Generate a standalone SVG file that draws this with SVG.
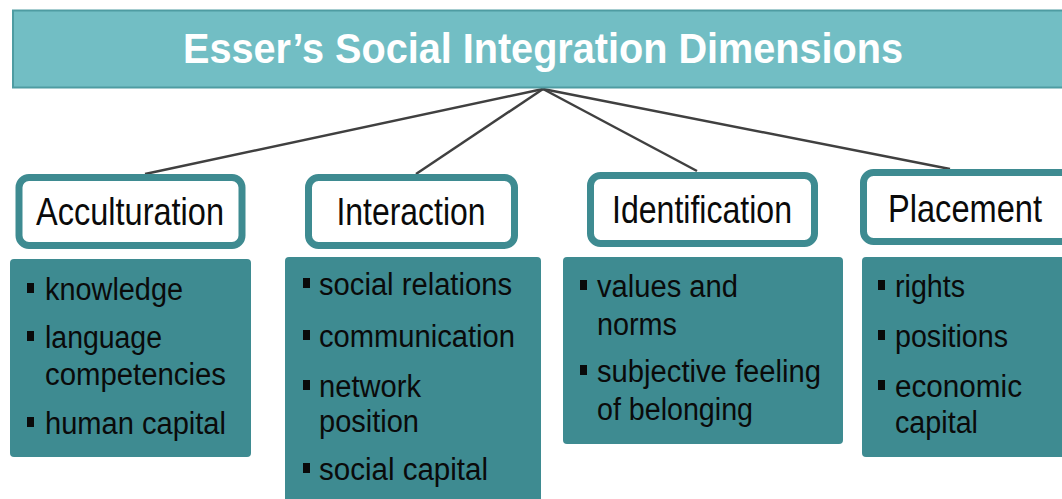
<svg xmlns="http://www.w3.org/2000/svg" width="1062" height="499" viewBox="0 0 1062 499">
<style>
.title{font-family:"Liberation Sans",Arial,sans-serif;font-weight:bold;font-size:43px;fill:#ffffff}
.lbl{font-family:"Liberation Sans",Arial,sans-serif;font-size:39px;fill:#0a0a0a;text-anchor:middle}
.item{font-family:"Liberation Sans",Arial,sans-serif;font-size:31px;fill:#0a0a0a}
.lblbox{fill:#ffffff;stroke:#3e8b91;stroke-width:7}
.body{fill:#3e8b91}
.bul{fill:#0a0a0a}
.conn{stroke:#404040;stroke-width:2.5;fill:none}
</style>
<rect width="1062" height="499" fill="#ffffff"/>
<g id="connectors">
<line class="conn" x1="543" y1="89" x2="145" y2="174"/>
<line class="conn" x1="543" y1="89" x2="416" y2="174"/>
<line class="conn" x1="543" y1="89" x2="697" y2="171"/>
<line class="conn" x1="543" y1="89" x2="950" y2="169"/>
</g>
<g id="title">
<rect x="13" y="10.5" width="1060" height="77" fill="#72bec4" stroke="#4e9ca2" stroke-width="2"/>
<text class="title" x="183" y="63" textLength="720" lengthAdjust="spacingAndGlyphs">Esser’s Social Integration Dimensions</text>
</g>
<g id="acculturation">
<rect class="lblbox" x="19" y="177.5" width="223" height="68" rx="10"/>
<text class="lbl" x="130" y="225" textLength="188" lengthAdjust="spacingAndGlyphs">Acculturation</text>
<rect class="body" x="10" y="259" width="241" height="198" rx="4"/>
<rect class="bul" x="27" y="283" width="7" height="10"/>
<text class="item" x="45" y="300" textLength="138" lengthAdjust="spacingAndGlyphs">knowledge</text>
<rect class="bul" x="27" y="331" width="7" height="10"/>
<text class="item" x="45" y="348" textLength="117" lengthAdjust="spacingAndGlyphs">language</text>
<text class="item" x="45" y="385" textLength="181" lengthAdjust="spacingAndGlyphs">competencies</text>
<rect class="bul" x="27" y="417" width="7" height="10"/>
<text class="item" x="45" y="434" textLength="181" lengthAdjust="spacingAndGlyphs">human capital</text>
</g>
<g id="interaction">
<rect class="lblbox" x="308.5" y="177.5" width="206" height="68" rx="10"/>
<text class="lbl" x="411" y="225" textLength="149" lengthAdjust="spacingAndGlyphs">Interaction</text>
<rect class="body" x="285" y="257" width="256" height="250" rx="4"/>
<rect class="bul" x="303" y="278" width="7" height="10"/>
<text class="item" x="319" y="295" textLength="193" lengthAdjust="spacingAndGlyphs">social relations</text>
<rect class="bul" x="303" y="330" width="7" height="10"/>
<text class="item" x="319" y="347" textLength="196" lengthAdjust="spacingAndGlyphs">communication</text>
<rect class="bul" x="303" y="380" width="7" height="10"/>
<text class="item" x="319" y="397" textLength="102" lengthAdjust="spacingAndGlyphs">network</text>
<text class="item" x="319" y="432" textLength="100" lengthAdjust="spacingAndGlyphs">position</text>
<rect class="bul" x="303" y="463" width="7" height="10"/>
<text class="item" x="319" y="480" textLength="169" lengthAdjust="spacingAndGlyphs">social capital</text>
</g>
<g id="identification">
<rect class="lblbox" x="590.5" y="175.5" width="224" height="68" rx="10"/>
<text class="lbl" x="702" y="223" textLength="180" lengthAdjust="spacingAndGlyphs">Identification</text>
<rect class="body" x="563" y="257" width="280" height="187" rx="4"/>
<rect class="bul" x="580" y="280" width="7" height="10"/>
<text class="item" x="597" y="297" textLength="141" lengthAdjust="spacingAndGlyphs">values and</text>
<text class="item" x="597" y="335" textLength="80" lengthAdjust="spacingAndGlyphs">norms</text>
<rect class="bul" x="580" y="365" width="7" height="10"/>
<text class="item" x="597" y="382" textLength="224" lengthAdjust="spacingAndGlyphs">subjective feeling</text>
<text class="item" x="597" y="420" textLength="156" lengthAdjust="spacingAndGlyphs">of belonging</text>
</g>
<g id="placement">
<rect class="lblbox" x="863.5" y="172.5" width="215" height="69" rx="10"/>
<text class="lbl" x="965" y="222" textLength="154" lengthAdjust="spacingAndGlyphs">Placement</text>
<rect class="body" x="862" y="257" width="210" height="200" rx="4"/>
<rect class="bul" x="878" y="280" width="7" height="10"/>
<text class="item" x="895" y="297" textLength="70" lengthAdjust="spacingAndGlyphs">rights</text>
<rect class="bul" x="878" y="330" width="7" height="10"/>
<text class="item" x="895" y="347" textLength="113" lengthAdjust="spacingAndGlyphs">positions</text>
<rect class="bul" x="878" y="380" width="7" height="10"/>
<text class="item" x="895" y="397" textLength="127" lengthAdjust="spacingAndGlyphs">economic</text>
<text class="item" x="895" y="433" textLength="83" lengthAdjust="spacingAndGlyphs">capital</text>
</g>
</svg>
